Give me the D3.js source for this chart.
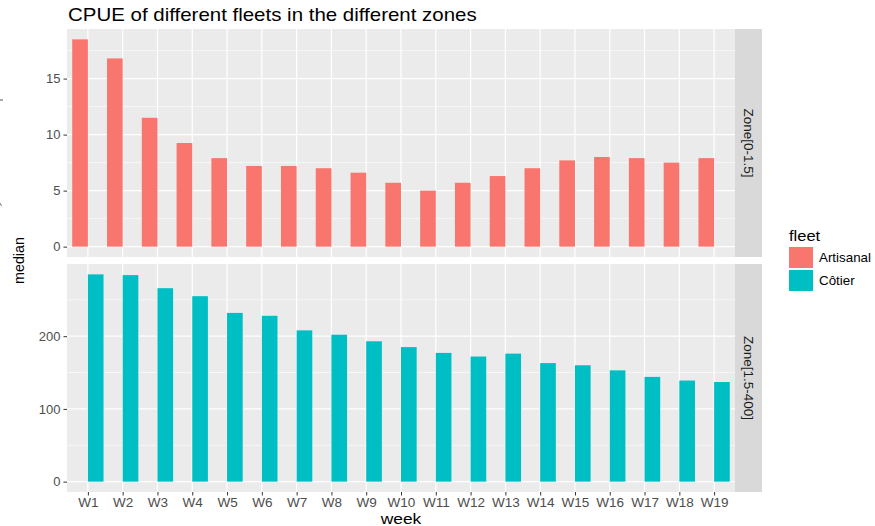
<!DOCTYPE html>
<html>
<head>
<meta charset="utf-8">
<script src="https://cdn.jsdelivr.net/npm/d3@7"></script>
<style>
  body { margin: 0; background: #fff; }
  svg text { font-family: "Liberation Sans", Arial, Helvetica, sans-serif; }
</style>
</head>
<body>
<div id="chart"></div>
<script>
// data
var weeks = ["W1","W2","W3","W4","W5","W6","W7","W8","W9","W10","W11","W12","W13","W14","W15","W16","W17","W18","W19"];
var fleets = ["Artisanal", "Côtier"];
var zones = ["Zone[0-1.5]", "Zone[1.5-400]"];
var artisanal = [18.5, 16.8, 11.5, 9.25, 7.9, 7.2, 7.2, 7.0, 6.6, 5.7, 5.0, 5.7, 6.3, 7.0, 7.7, 8.0, 7.9, 7.5, 7.9];
var cotier = [285, 284, 266, 255, 232, 228, 208, 202, 193, 185, 177, 172, 176, 163, 160, 153, 144, 139, 137];
var topTicks = [0, 5, 10, 15];
var topMinor = [2.5, 7.5, 12.5, 17.5];
var botTicks = [0, 100, 200];
var botMinor = [50, 150, 250];

var W = 875, H = 526;
var colors = d3.scaleOrdinal().domain(fleets).range(["#F8766D", "#00BFC4"]);

var svg = d3.select("#chart").append("svg")
    .attr("width", W).attr("height", H);

var px0 = 67, px1 = 735, stripW = 27;

// discrete x with ggplot's 0.6 expansion
var x = d3.scaleLinear().domain([0.4, weeks.length + 0.6]).range([px0, px1]);
var halfBar = 0.45;

var panels = [
  { zone: zones[0], fleet: fleets[0], vals: artisanal, top: 29, bottom: 257, ticks: topTicks, minor: topMinor, dodge: -1 },
  { zone: zones[1], fleet: fleets[1], vals: cotier, top: 264, bottom: 492, ticks: botTicks, minor: botMinor, dodge: 0 }
];

// horizontal text in the picture is a bit wider than its height suggests
function wideText(sel, x0, y0, size, sx) {
  return sel.append("text")
    .attr("transform", "translate(" + x0 + "," + y0 + ") scale(" + sx + ",1)")
    .style("font-size", size + "px");
}

panels.forEach(function (p, pi) {
  var mx = d3.max(p.vals);
  var y = d3.scaleLinear().domain([-mx * 0.05, mx * 1.05]).range([p.bottom, p.top]);
  var g = svg.append("g");

  g.append("rect")
    .attr("x", px0).attr("y", p.top)
    .attr("width", px1 - px0).attr("height", p.bottom - p.top)
    .attr("fill", "#EBEBEB");

  // minor grid
  g.selectAll(".minor").data(p.minor).enter().append("line")
    .attr("x1", px0).attr("x2", px1)
    .attr("y1", function (d) { return y(d); }).attr("y2", function (d) { return y(d); })
    .attr("stroke", "#fff").attr("stroke-width", 0.6);
  // major grid
  g.selectAll(".major").data(p.ticks).enter().append("line")
    .attr("x1", px0).attr("x2", px1)
    .attr("y1", function (d) { return y(d); }).attr("y2", function (d) { return y(d); })
    .attr("stroke", "#fff").attr("stroke-width", 1.2);
  g.selectAll(".vgrid").data(weeks).enter().append("line")
    .attr("x1", function (d, i) { return x(i + 1); }).attr("x2", function (d, i) { return x(i + 1); })
    .attr("y1", p.top).attr("y2", p.bottom)
    .attr("stroke", "#fff").attr("stroke-width", 1.2);

  // bars (dodged: Artisanal left half, Côtier right half)
  g.selectAll(".bar").data(p.vals).enter().append("rect")
    .attr("x", function (d, i) { return x(i + 1 + p.dodge * halfBar); })
    .attr("width", x(1 + halfBar) - x(1))
    .attr("y", function (d) { return y(d); })
    .attr("height", function (d) { return y(0) - y(d); })
    .attr("fill", colors(p.fleet));

  // y axis
  var ya = d3.axisLeft(y).tickValues(p.ticks).tickSize(3.5).tickPadding(3);
  var yg = svg.append("g").attr("transform", "translate(" + px0 + ",0)").call(ya);
  yg.select(".domain").remove();
  yg.selectAll("line").attr("stroke", "#333");
  yg.selectAll("text").attr("fill", "#4D4D4D").style("font-size", "13px");

  // strip
  svg.append("rect")
    .attr("x", px1).attr("y", p.top)
    .attr("width", stripW).attr("height", p.bottom - p.top)
    .attr("fill", "#D9D9D9");
  svg.append("text")
    .attr("transform", "translate(" + (px1 + stripW / 2) + "," + ((p.top + p.bottom) / 2) + ") rotate(90)")
    .attr("text-anchor", "middle").attr("dy", "0.35em")
    .attr("fill", "#1A1A1A").style("font-size", "13.5px")
    .text(p.zone);

  if (pi === 1) {
    var xa = d3.axisBottom(x).tickValues(d3.range(1, weeks.length + 1))
      .tickFormat(function (d) { return weeks[d - 1]; }).tickSize(3.5).tickPadding(2.5);
    var xg = svg.append("g").attr("transform", "translate(0," + p.bottom + ")").call(xa);
    xg.select(".domain").remove();
    xg.selectAll("line").attr("stroke", "#333");
    xg.selectAll("text").attr("fill", "#4D4D4D").style("font-size", "13px")
      .attr("transform", "scale(1.04,1)");
  }
});

// titles
wideText(svg, 68, 21, 17.5, 1.17).attr("fill", "#000")
  .text("CPUE of different fleets in the different zones");

wideText(svg, (px0 + px1) / 2, 524, 14.5, 1.2)
  .attr("text-anchor", "middle").attr("fill", "#000")
  .text("week");

svg.append("text")
  .attr("transform", "translate(24," + ((29 + 492) / 2) + ") rotate(-90)")
  .attr("text-anchor", "middle").style("font-size", "14.3px").attr("fill", "#000")
  .text("median");

// legend
var lg = svg.append("g").attr("transform", "translate(789,0)");
wideText(lg, 0, 241, 15, 1.1).attr("fill", "#000").text("fleet");
fleets.forEach(function (f, i) {
  lg.append("rect").attr("x", 0).attr("y", 247 + i * 23).attr("width", 24).attr("height", 21)
    .attr("fill", colors(f));
  wideText(lg, 30, 258 + i * 23, 12.5, 1.07).attr("dy", "0.35em")
    .attr("fill", "#000").text(f);
});

// stray marks at left edge of the crop
svg.append("line").attr("x1", 0).attr("x2", 3).attr("y1", 100).attr("y2", 100).attr("stroke", "#555");
svg.append("line").attr("x1", 0).attr("x2", 1.5).attr("y1", 203).attr("y2", 206).attr("stroke", "#777");
</script>
</body>
</html>
